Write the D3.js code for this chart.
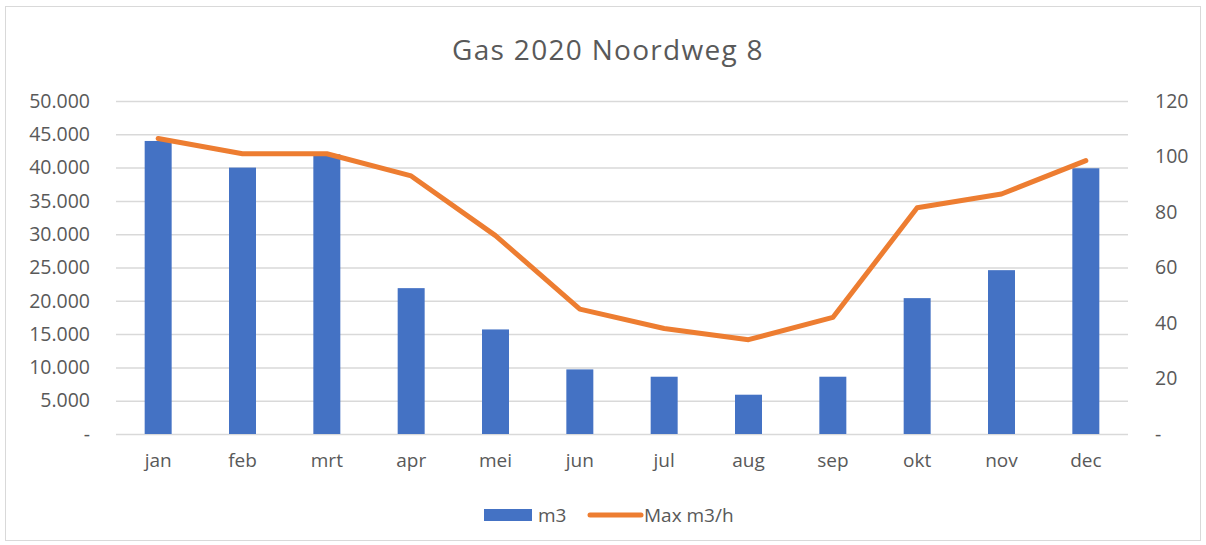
<!DOCTYPE html>
<html>
<head>
<meta charset="utf-8">
<script src="https://cdn.jsdelivr.net/npm/d3@7"></script>
<style>
  body { margin: 0; background: #fff; }
  #chart text { font-family: "Open Sans", "Noto Sans", sans-serif; fill: #595959; }
</style>
</head>
<body>
<div id="chart"></div>
<script>
let months = ["jan", "feb", "mrt", "apr", "mei", "jun", "jul", "aug", "sep", "okt", "nov", "dec"];
let volume = [44000, 40000, 42000, 21900, 15700, 9700, 8600, 5900, 8600, 20400, 24600, 39900];
let maxFlow = [106.5, 101, 101, 93, 71.5, 45, 38, 34, 42, 81.5, 86.5, 98.5];
let leftTicks = [0, 5000, 10000, 15000, 20000, 25000, 30000, 35000, 40000, 45000, 50000];
let rightTicks = [0, 20, 40, 60, 80, 100, 120];

let draw = () => {
  d3.select("#chart").select("svg").remove();

  let width = 1206;
  let height = 545;
  let margin = { left: 116, right: 78, top: 101, bottom: 111 };
  let innerW = width - margin.left - margin.right;
  let innerH = height - margin.top - margin.bottom;

  let root = d3.select("#chart").append("svg").attr("width", width).attr("height", height);

  root.append("rect")
    .attr("x", 5.5).attr("y", 6.5)
    .attr("width", 1195).attr("height", 534)
    .attr("fill", "none").attr("stroke", "#d9d9d9");

  root.append("text")
    .attr("x", 608).attr("y", 60)
    .attr("text-anchor", "middle")
    .attr("font-size", 28)
    .attr("letter-spacing", 1.3)
    .text("Gas 2020 Noordweg 8");

  let svg = root.append("g").attr("transform", `translate(${margin.left}, ${margin.top})`);

  let xScale = d3.scaleBand().domain(months).range([0, innerW]).paddingInner(0.68).paddingOuter(0.34);
  let yLeft = d3.scaleLinear().domain([0, 50000]).range([innerH, 0]);
  let yRight = d3.scaleLinear().domain([0, 120]).range([innerH, 0]);

  let fmt = (d) => (d === 0 ? "-" : d3.format(",")(d).replace(/,/g, "."));

  // gridlines
  svg.append("g")
    .call(d3.axisLeft(yLeft).tickValues(leftTicks).tickSize(-innerW).tickFormat(""))
    .call((g) => g.select(".domain").remove())
    .call((g) => g.selectAll("line").attr("stroke", "#d9d9d9").attr("stroke-width", 1.5));

  svg.append("g")
    .call(d3.axisLeft(yLeft).tickValues(leftTicks).tickSize(0).tickPadding(26).tickFormat(fmt))
    .call((g) => g.select(".domain").remove())
    .call((g) => g.selectAll("text").attr("font-size", 19.5));

  svg.append("g")
    .attr("transform", `translate(${innerW}, 0)`)
    .call(d3.axisRight(yRight).tickValues(rightTicks).tickSize(0).tickPadding(27).tickFormat(fmt))
    .call((g) => g.select(".domain").remove())
    .call((g) => g.selectAll("text").attr("font-size", 19.5));

  svg.append("g")
    .attr("transform", `translate(0, ${innerH})`)
    .call(d3.axisBottom(xScale).tickSize(0).tickPadding(20))
    .call((g) => g.select(".domain").remove())
    .call((g) => g.selectAll("text").attr("font-size", 19));

  svg.selectAll("bars")
    .data(months)
    .enter()
    .append("rect")
    .attr("x", (d) => xScale(d))
    .attr("y", (d, i) => yLeft(volume[i]))
    .attr("width", xScale.bandwidth())
    .attr("height", (d, i) => innerH - yLeft(volume[i]))
    .attr("fill", "#4472c4");

  let line = d3.line()
    .x((d, i) => xScale(months[i]) + xScale.bandwidth() / 2)
    .y((d) => yRight(d));

  svg.append("path")
    .datum(maxFlow)
    .attr("d", line)
    .attr("fill", "none")
    .attr("stroke", "#ed7d31")
    .attr("stroke-width", 5)
    .attr("stroke-linejoin", "round")
    .attr("stroke-linecap", "round");

  // legend
  let legend = root.append("g").attr("transform", "translate(484, 515)");
  legend.append("rect").attr("x", 0).attr("y", -6).attr("width", 48).attr("height", 12).attr("fill", "#4472c4");
  legend.append("text").attr("x", 54).attr("y", 7).attr("font-size", 19).text("m3");
  legend.append("line").attr("x1", 106).attr("x2", 157).attr("y1", 0).attr("y2", 0)
    .attr("stroke", "#ed7d31").attr("stroke-width", 5).attr("stroke-linecap", "round");
  legend.append("text").attr("x", 160).attr("y", 7).attr("font-size", 19).text("Max m3/h");
};

draw();
</script>
</body>
</html>
